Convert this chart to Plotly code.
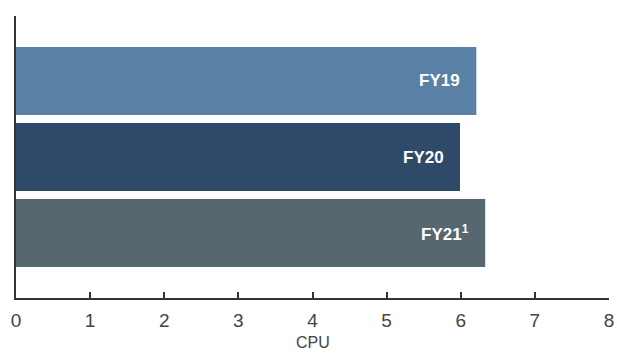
import plotly.graph_objects as go

categories = ["FY19", "FY20", "FY21"]
labels = ["FY19", "FY20", "FY21<sup>1</sup>"]
values = [6.21, 5.99, 6.33]
colors = ["#5a80a5", "#2e4a68", "#56676f"]
x_ticks = [0, 1, 2, 3, 4, 5, 6, 7, 8]
x_title = "CPU"

fig = go.Figure()
fig.add_trace(go.Bar(
    y=categories, x=values, orientation="h",
    marker=dict(color=colors, line=dict(width=0)),
    width=0.895, hoverinfo="skip",
))
for c, v, t in zip(categories, values, labels):
    fig.add_annotation(x=v, y=c, text="<b>" + t + "</b>", showarrow=False,
                       xanchor="right", xshift=-14,
                       font=dict(family="Liberation Sans, Arial", size=17, color="white"))

fig.add_annotation(xref="paper", yref="paper", x=0.5, y=-0.158, text=x_title,
                   showarrow=False, xanchor="center", yanchor="middle",
                   font=dict(family="Liberation Sans, Arial", size=16, color="#444"))

fig.update_layout(
    width=617, height=353,
    margin=dict(l=16, r=8, t=16, b=55, autoexpand=False),
    paper_bgcolor="white", plot_bgcolor="white",
    showlegend=False,
    font=dict(family="Liberation Sans, Arial", color="#444"),
    xaxis=dict(
        range=[0, 8], tickvals=x_ticks, showgrid=False, zeroline=False,
        showline=True, linecolor="#333", linewidth=1.5, automargin=False,
        ticks="inside", ticklen=6, tickcolor="#333", tickwidth=1.5,
        tickfont=dict(size=19, color="#444"), ticklabelstandoff=4,
    ),
    yaxis=dict(
        type="category", range=[2.855, -0.855], showticklabels=False, automargin=False,
        showgrid=False, zeroline=False, showline=True, linecolor="#333", linewidth=1.5,
        ticks="",
    ),
)
fig.write_html("out.html")
